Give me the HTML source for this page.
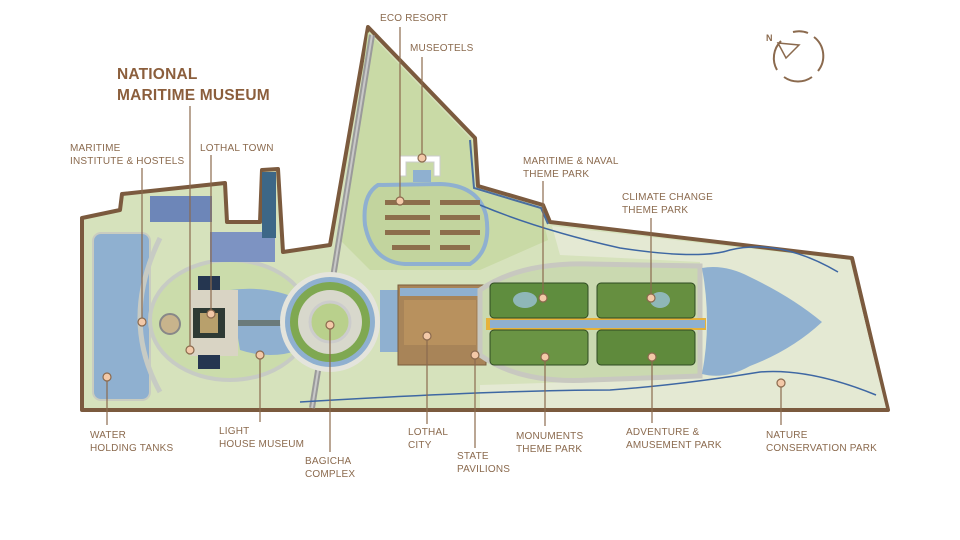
<!DOCTYPE html>
<html><head><meta charset="utf-8"><style>
html,body{margin:0;padding:0;background:#fff}
svg{display:block}
text{font-family:"Liberation Sans",sans-serif;fill:#8b6a4e;font-size:10px;letter-spacing:0.2px}
</style></head><body>
<svg width="960" height="540" viewBox="0 0 960 540" xmlns="http://www.w3.org/2000/svg">
<polygon points="82,410 82,218 120,210 122,194 225,183 227,222 260,222 262,170 278,169 283,252 330,245 368,27 475,138 478,186 543,205 550,222 852,258 888,410" fill="#d6e2bc" stroke="#7b5a3e" stroke-width="4" stroke-linejoin="round"/>
<polygon points="552,226 850,260 886,408 480,408 480,385 700,378 700,262 560,255" fill="#e4e9d3"/>
<polygon points="340,240 368,32 472,140 475,190 540,208 548,240 480,270 370,270" fill="#c9daa6"/>
<path d="M378,185 Q362,195 365,225 Q372,262 405,264 L470,264 Q492,250 486,215 Q478,185 440,184 Z" fill="#c2d49e" stroke="#8fb0d0" stroke-width="4"/>
<g fill="#8c6e4c"><rect x="385" y="200" width="45" height="5"/><rect x="440" y="200" width="40" height="5"/><rect x="385" y="215" width="45" height="5"/><rect x="440" y="215" width="40" height="5"/><rect x="385" y="230" width="45" height="5"/><rect x="440" y="230" width="40" height="5"/><rect x="392" y="245" width="38" height="5"/><rect x="440" y="245" width="30" height="5"/></g>
<path d="M400,156 L440,156 L440,176 L434,176 L434,162 L406,162 L406,176 L400,176 Z" fill="#fff" stroke="#ccc"/>
<rect x="413" y="170" width="18" height="12" fill="#8fb0d0"/>
<polyline points="470,140 474,188 541,208 548,224" fill="none" stroke="#4a6fa0" stroke-width="2"/>
<line x1="372" y1="35" x2="312" y2="408" stroke="#9a9a9a" stroke-width="6"/>
<line x1="372" y1="35" x2="312" y2="408" stroke="#c8c8c8" stroke-width="2"/>
<rect x="93" y="233" width="57" height="167" rx="8" fill="#8fb0d0" stroke="#c9ccc0" stroke-width="2"/>
<path d="M160,238 Q120,320 160,392" fill="none" stroke="#c7cbc4" stroke-width="5"/>
<ellipse cx="230" cy="320" rx="80" ry="60" fill="#cbdcab" stroke="#c7cbc4" stroke-width="4"/>
<rect x="150" y="196" width="62" height="26" fill="#6d86b8"/>
<rect x="210" y="232" width="65" height="30" fill="#7d93c2"/>
<rect x="262" y="172" width="14" height="66" fill="#3d6787"/>
<path d="M230,290 Q270,285 300,300 L300,350 Q270,360 240,350 Z" fill="#8fb0d0"/>
<rect x="190" y="290" width="48" height="66" fill="#d9d4c4"/>
<rect x="198" y="276" width="22" height="14" fill="#253650"/>
<rect x="198" y="355" width="22" height="14" fill="#253650"/>
<rect x="193" y="308" width="32" height="30" fill="#2e3a34"/>
<rect x="200" y="313" width="18" height="20" fill="#b8a06c"/>
<circle cx="170" cy="324" r="10" fill="#c8b48c" stroke="#888" stroke-width="2"/>
<rect x="238" y="320" width="72" height="6" fill="#6b7b7b"/>
<circle cx="330" cy="322" r="50" fill="#e4e4dc"/>
<circle cx="330" cy="322" r="45" fill="#8fb0d0"/>
<circle cx="330" cy="322" r="40" fill="#7fa851"/>
<circle cx="330" cy="322" r="32" fill="#d8d8cc"/>
<circle cx="330" cy="322" r="20" fill="#b9d08c" stroke="#ccc" stroke-width="3"/>
<rect x="380" y="290" width="112" height="62" fill="#8fb0d0"/>
<rect x="398" y="285" width="88" height="80" fill="#a88458" stroke="#7a5c3c"/>
<rect x="404" y="300" width="72" height="45" fill="#b8915e"/>
<rect x="400" y="288" width="80" height="8" fill="#8fb0d0"/>
<path d="M480,290 Q520,262 590,264 L700,266 L700,376 L590,380 Q520,384 480,355 Z" fill="#cad9b0" stroke="#c8c8c0" stroke-width="5"/>
<rect x="486" y="318" width="220" height="12" fill="#e6b23a"/>
<rect x="490" y="320" width="215" height="8" fill="#8fb0d0"/>
<rect x="490" y="283" width="98" height="35" rx="4" fill="#5f8d3e" stroke="#2f4a22"/>
<rect x="597" y="283" width="98" height="35" rx="4" fill="#668f40" stroke="#2f4a22"/>
<rect x="490" y="330" width="98" height="35" rx="4" fill="#6a9444" stroke="#2f4a22"/>
<rect x="597" y="330" width="98" height="35" rx="4" fill="#5f8a3c" stroke="#2f4a22"/>
<ellipse cx="525" cy="300" rx="12" ry="8" fill="#8fb7b8"/>
<ellipse cx="660" cy="300" rx="10" ry="8" fill="#8fb7b8"/>
<path d="M702,268 Q725,264 750,277 Q792,297 822,322 Q792,350 750,366 Q725,380 702,374 Q712,322 702,268 Z" fill="#8fb0d0"/>
<path d="M480,205 Q540,230 620,248 Q700,260 730,250 Q780,238 838,272" fill="none" stroke="#3e67a3" stroke-width="1.5"/>
<path d="M300,402 Q500,390 610,390 Q680,385 760,372 Q810,368 876,395" fill="none" stroke="#3e67a3" stroke-width="1.5"/>
<text x="117" y="79" style="font-size:15.5px;font-weight:bold;fill:#8b5e3c">NATIONAL</text>
<text x="117" y="100" style="font-size:15.5px;font-weight:bold;fill:#8b5e3c">MARITIME MUSEUM</text>
<g stroke="#8b6a4e" stroke-width="1.2">
<line x1="190" y1="106" x2="190" y2="350"/>
<line x1="400" y1="27" x2="400" y2="201"/>
<line x1="422" y1="57" x2="422" y2="158"/>
<line x1="142" y1="168" x2="142" y2="322"/>
<line x1="211" y1="155" x2="211" y2="314"/>
<line x1="543" y1="181" x2="543" y2="298"/>
<line x1="651" y1="218" x2="651" y2="298"/>
<line x1="107" y1="377" x2="107" y2="425"/>
<line x1="260" y1="355" x2="260" y2="422"/>
<line x1="330" y1="325" x2="330" y2="452"/>
<line x1="427" y1="336" x2="427" y2="424"/>
<line x1="475" y1="355" x2="475" y2="448"/>
<line x1="545" y1="357" x2="545" y2="426"/>
<line x1="652" y1="357" x2="652" y2="423"/>
<line x1="781" y1="383" x2="781" y2="425"/>
</g>
<g fill="#f3c9a8" stroke="#8b6a4e" stroke-width="1.2">
<circle cx="190" cy="350" r="4"/><circle cx="400" cy="201" r="4"/><circle cx="422" cy="158" r="4"/>
<circle cx="142" cy="322" r="4"/><circle cx="211" cy="314" r="4"/><circle cx="543" cy="298" r="4"/>
<circle cx="651" cy="298" r="4"/><circle cx="107" cy="377" r="4"/><circle cx="260" cy="355" r="4"/>
<circle cx="330" cy="325" r="4"/><circle cx="427" cy="336" r="4"/><circle cx="475" cy="355" r="4"/>
<circle cx="545" cy="357" r="4"/><circle cx="652" cy="357" r="4"/><circle cx="781" cy="383" r="4"/>
</g>
<g style="font-weight:500">
<text x="380" y="21">ECO RESORT</text>
<text x="410" y="51">MUSEOTELS</text>
<text x="70" y="151">MARITIME</text><text x="70" y="164">INSTITUTE &amp; HOSTELS</text>
<text x="200" y="151">LOTHAL TOWN</text>
<text x="523" y="164">MARITIME &amp; NAVAL</text><text x="523" y="177">THEME PARK</text>
<text x="622" y="200">CLIMATE CHANGE</text><text x="622" y="213">THEME PARK</text>
<text x="90" y="438">WATER</text><text x="90" y="451">HOLDING TANKS</text>
<text x="219" y="434">LIGHT</text><text x="219" y="447">HOUSE MUSEUM</text>
<text x="305" y="464">BAGICHA</text><text x="305" y="477">COMPLEX</text>
<text x="408" y="435">LOTHAL</text><text x="408" y="448">CITY</text>
<text x="457" y="459">STATE</text><text x="457" y="472">PAVILIONS</text>
<text x="516" y="439">MONUMENTS</text><text x="516" y="452">THEME PARK</text>
<text x="626" y="435">ADVENTURE &amp;</text><text x="626" y="448">AMUSEMENT PARK</text>
<text x="766" y="438">NATURE</text><text x="766" y="451">CONSERVATION PARK</text>
</g>
<g fill="none" stroke="#8b6a4e" stroke-width="2">
<path d="M814,37 A24,24 0 0 1 818,71"/>
<path d="M812,77 A24,24 0 0 1 784,77"/>
<path d="M777,70 A24,24 0 0 1 781,41"/>
<path d="M793,32 A24,24 0 0 1 808,33"/>
<path d="M778,43 L799,45 L786,58 Z" stroke-width="1.5"/>
</g>
<text x="766" y="41" style="font-size:9px;font-weight:bold">N</text>
</svg>
</body></html>
